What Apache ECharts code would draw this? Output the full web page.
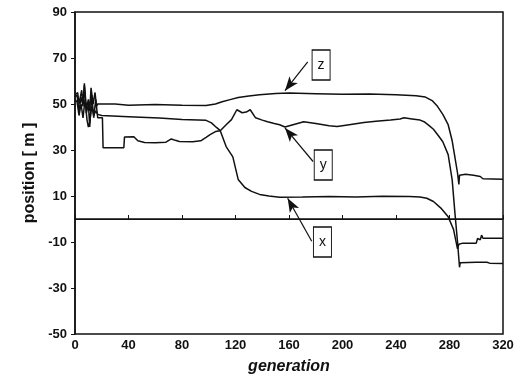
<!DOCTYPE html>
<html>
<head>
<meta charset="utf-8">
<script src="https://cdn.jsdelivr.net/npm/echarts@6/dist/echarts.min.js"></script>
<style>
  html, body { margin: 0; padding: 0; background: #fff; }
  #chart { width: 522px; height: 380px; }
</style>
</head>
<body>
<div id="chart"></div>
<script>
// [generation, position]
const zData = [
  [0, 54], [2, 55], [3, 50], [5, 56], [6, 50], [7, 59], [8.5, 48], [10, 52], [11, 47],
  [12, 57], [13.5, 50], [15, 55], [16, 49], [17, 50], [18, 50],
  [30, 50], [40, 49.5], [60, 49.8], [80, 49.5], [98, 49.3], [105, 50], [110, 51], [116, 51.9],
  [122, 52.8], [130, 53.5], [138, 54], [150, 54.6], [160, 54.8], [180, 54.5], [200, 54.2],
  [220, 54.4], [240, 54], [255, 53.6], [262, 53], [267, 51.5], [271, 49], [275, 45.5],
  [279, 41], [282, 34], [284, 27], [286, 20], [287, 15], [287.5, 19], [292, 19.5], [298, 19],
  [303, 18.5], [305, 17.5], [320, 17.3]
];
const yData = [
  [0, 53], [1.5, 54], [3, 47], [4.5, 53], [6, 49], [7, 58], [8.5, 46], [10, 50], [11, 40],
  [12.5, 54], [14, 44], [15.5, 52], [17, 44], [20.5, 44],
  [21, 31], [28, 31], [36.5, 31], [37, 35.6], [44, 35.8], [47, 34], [52, 33.3], [60, 33.1],
  [68, 33.4], [72, 34.8], [75, 34.2], [78, 33.7], [88, 33.6], [94, 34], [98, 35.5],
  [101, 36.7], [105, 38], [108.6, 38.4], [113, 41], [117, 43.2], [121, 47.5], [125, 46.2],
  [128, 46.5], [131, 47.5], [135, 44], [140, 43], [144, 42.3], [149, 41.5], [153, 41],
  [157, 40], [163, 41], [171, 42.3], [180, 41.5], [190, 40.5], [196, 40.2], [205, 41],
  [216, 42], [225, 42.5], [236, 43], [243, 43.5], [246, 44], [252, 43.5], [258, 43],
  [261, 42.3], [265, 40.5], [268, 39], [272, 36], [275, 33.6], [279, 28], [282, 17],
  [284, 3], [286, -10], [287.5, -21], [288, -19], [300, -18.8], [308, -18.8], [310, -19.2],
  [320, -19.3]
];
const xData = [
  [0, 52], [1.5, 51], [3, 45], [4.5, 50], [6, 44], [7.5, 52], [9, 43], [10, 40], [11, 42],
  [12.5, 49], [14, 45], [15.5, 47], [17, 45.5], [20, 45],
  [40, 44.5], [63, 43.9], [80, 43.3], [98, 42.9], [102, 41.8], [106, 39.7], [108.6, 38.4],
  [113, 31.5], [118, 27], [122, 17.2], [127, 13.7], [132, 12], [138, 10.7], [145, 10],
  [153, 9.5], [170, 9.6], [190, 9.8], [210, 9.6], [230, 9.9], [250, 9.8], [258, 9.6],
  [263, 9], [268, 7.6], [274, 4.5], [279, 1], [283, -4.5], [286, -13], [287, -11],
  [290, -10.5], [300, -10.5], [301, -8.5], [302, -8], [303, -9], [304, -7], [305, -8.4],
  [320, -8.4]
];

// label boxes and arrows: [name, boxCenter, arrowStart, arrowTip]
const zNote = ["z", [184, 67], [174, 68.3], [157, 55.8]];
const yNote = ["y", [185.6, 23.5], [178, 25], [157, 39.6]];
const xNote = ["x", [185, -10], [177, -9.7], [159, 9]];

const xTicks = [0, 320, 40];
const yTicks = [-50, 90, 20];

const chart = echarts.init(document.getElementById("chart"));

function makeSeries(name, data, note, withZero) {
  const s = {
    name: name,
    type: "line",
    data: data,
    showSymbol: false,
    symbol: "none",
    lineStyle: { color: "#111", width: 1.5 },
    markPoint: {
      symbol: "rect",
      symbolSize: [18, 30],
      itemStyle: { color: "#fff", borderColor: "#111", borderWidth: 1.2 },
      label: {
        show: true,
        position: "inside",
        color: "#111",
        fontFamily: "Liberation Sans",
        fontSize: 14,
        formatter: note[0],
      },
      data: [{ coord: note[1] }],
    },
    markLine: {
      silent: true,
      symbol: ["none", "arrow"],
      symbolSize: [8, 14],
      label: { show: false },
      lineStyle: { color: "#111", width: 1.2, type: "solid" },
      data: [[{ coord: note[2] }, { coord: note[3] }]],
    },
  };
  if (withZero) {
    s.markLine.data.push([
      { coord: [xTicks[0], 0], symbol: "none" },
      { coord: [xTicks[1], 0], symbol: "none" },
    ]);
  }
  return s;
}

chart.setOption({
  animation: false,
  backgroundColor: "#fff",
  grid: {
    left: 75,
    right: 19,
    top: 12,
    bottom: 45,
    show: true,
    borderColor: "#111",
    borderWidth: 1.5,
  },
  xAxis: {
    type: "value",
    min: xTicks[0],
    max: xTicks[1],
    interval: xTicks[2],
    name: "generation",
    nameLocation: "middle",
    nameGap: 25,
    nameTextStyle: {
      fontFamily: "Liberation Sans",
      fontStyle: "italic",
      fontWeight: "bold",
      fontSize: 16,
      color: "#111",
    },
    axisLine: { show: true, lineStyle: { color: "#111", width: 1.5 } },
    axisTick: { show: true, inside: true, length: 4, lineStyle: { color: "#111" } },
    axisLabel: {
      fontFamily: "Liberation Sans",
      fontWeight: "bold",
      fontSize: 13,
      color: "#111",
      margin: 5,
    },
    splitLine: { show: false },
  },
  yAxis: {
    type: "value",
    min: yTicks[0],
    max: yTicks[1],
    interval: yTicks[2],
    name: "position [ m ]",
    nameLocation: "middle",
    nameGap: 37,
    nameTextStyle: {
      fontFamily: "Liberation Sans",
      fontWeight: "bold",
      fontSize: 16,
      color: "#111",
    },
    axisLine: { show: true, lineStyle: { color: "#111", width: 1.5 } },
    axisTick: { show: true, inside: false, length: 4, lineStyle: { color: "#111" } },
    axisLabel: {
      fontFamily: "Liberation Sans",
      fontWeight: "bold",
      fontSize: 13,
      color: "#111",
      margin: 8,
    },
    splitLine: { show: false },
  },
  series: [
    makeSeries("z", zData, zNote, true),
    makeSeries("y", yData, yNote, false),
    makeSeries("x", xData, xNote, false),
  ],
});

window.addEventListener("resize", () => {
  chart.resize();
});
</script>
</body>
</html>
